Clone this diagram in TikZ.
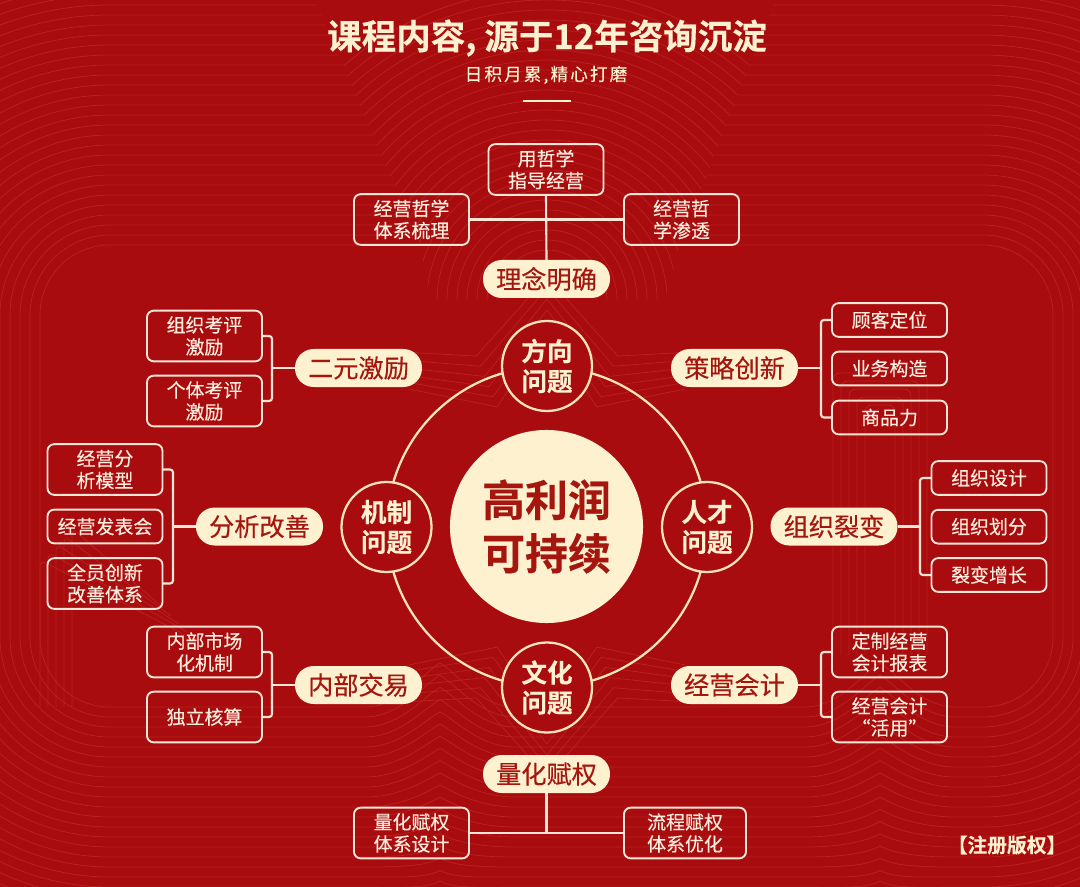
\documentclass[tikz,border=0pt]{standalone}
\usepackage{fontspec}
\setmainfont{Noto Sans CJK SC}
\newfontfamily\cjkm{Noto Sans CJK SC}[FakeBold=0.3]
\newfontfamily\cjkb{Noto Sans CJK SC Bold}
\newfontfamily\cjkbb{Noto Sans CJK SC Bold}[FakeBold=0.3]
\newfontfamily\cjksub{Noto Sans CJK SC}[LetterSpace=12,FakeBold=0.2]
\definecolor{bgred}{HTML}{A90C0E}
\definecolor{bgline}{HTML}{B9221F}
\definecolor{cream}{HTML}{FDF1CF}
\definecolor{boxline}{HTML}{F9E6D6}
\definecolor{boxtext}{HTML}{FCEDDD}
\definecolor{darktext}{HTML}{A5160F}
\definecolor{ringc}{HTML}{F9E4BB}
\tikzset{
  bgl/.style={draw=bgline,line width=0.55pt},
  boxnode/.style={draw=boxline,line width=1.4pt,rounded corners=5pt,minimum width=86.25pt,inner sep=0pt,outer sep=0pt,
    align=center,text=boxtext,font=\cjkm\fontsize{14.2}{16.5}\selectfont},
  tallbox/.style={boxnode,minimum height=38pt},
  lowbox/.style={boxnode,minimum height=25.3pt},
  pill/.style={fill=cream,rounded corners=14pt,minimum width=95.25pt,minimum height=28.5pt,inner sep=0pt,outer sep=0pt,
    text=darktext,font=\cjkm\fontsize{18.9}{22}\selectfont},
  issue/.style={circle,draw=ringc,fill=bgred,line width=1.7pt,minimum size=67.5pt,inner sep=0pt,outer sep=0pt,align=center,
    text=cream,font=\cjkbb\fontsize{19.2}{22.5}\selectfont},
  hub/.style={circle,fill=cream,minimum size=144.8pt,inner sep=0pt,outer sep=0pt,align=center,
    text=darktext,font=\cjkbb\fontsize{32.2}{40}\selectfont},
  conn/.style={draw=boxline,line width=1.6pt,rounded corners=2.2pt},
  ring/.style={draw=ringc,line width=1.7pt}
}
\begin{document}
\begin{tikzpicture}[x=0.75pt,y=-0.75pt]
\useasboundingbox (0,0) rectangle (1080,887);
\begin{scope}
\clip (0,0) rectangle (1080,887);
\fill[bgred] (0,0) rectangle (1080,887);
% concentric frame lines
\foreach \k in {0,...,26}{
  \pgfmathsetmacro\rr{(70+10*\k)*0.75}
  \draw[bgl,rounded corners=\rr pt] (40-10*\k,245-10*\k) rectangle (1053+10*\k,707+10*\k);
}
% nested columns on the right
\foreach \k in {0,...,4}{
  \draw[bgl,rounded corners=5pt] (833+8*\k,707) -- (833+8*\k,373+8*\k) -- (927-8*\k,373+8*\k) -- (927-8*\k,707);
}
% nested frame on the left
\foreach \k in {0,...,4}{
  \draw[bgl,rounded corners=5pt] (40+8*\k,707) -- (40+8*\k,560-8*\k) -- (195-8*\k,640-8*\k);
}
% centre-top burst
\begin{scope}
\clip (315,0) -- (775,0) -- (680,245) -- (665,300) -- (430,300) -- (420,245) -- cycle;
\fill[bgred] (300,0) rectangle (790,300);
\foreach \k in {0,...,26}{
  \draw[bgl] (547,300) circle ({(50+10*\k)*0.75pt});
}
\end{scope}
% chevrons at the bottom
\foreach \c in {440,880}{
  \fill[bgred] (\c-75,655) rectangle (\c+75,887);
  \foreach \k in {0,...,18}{
    \pgfmathsetmacro\yy{707+10*\k}
    \pgfmathsetmacro\hh{max(44-2.2*\k,6)}
    \draw[bgl] (\c-75,\yy) .. controls (\c-40,\yy) and (\c-15,\yy-\hh+8) .. (\c,\yy-\hh)
      .. controls (\c+15,\yy-\hh+8) and (\c+40,\yy) .. (\c+75,\yy);
  }
}
% star behind the ring
\foreach \k in {0,...,5}{
  \pgfmathsetmacro\ro{250-11*\k}
  \pgfmathsetmacro\ri{185-11*\k}
  \draw[bgl] ({547+\ro*cos(45)},{527+\ro*sin(45)}) -- ({547+\ri*cos(67.5)},{527+\ri*sin(67.5)}) -- ({547+\ro*cos(90)},{527+\ro*sin(90)}) -- ({547+\ri*cos(112.5)},{527+\ri*sin(112.5)}) -- ({547+\ro*cos(135)},{527+\ro*sin(135)});
  \draw[bgl] ({547+\ro*cos(225)},{527+\ro*sin(225)}) -- ({547+\ri*cos(247.5)},{527+\ri*sin(247.5)}) -- ({547+\ro*cos(270)},{527+\ro*sin(270)}) -- ({547+\ri*cos(292.5)},{527+\ri*sin(292.5)}) -- ({547+\ro*cos(315)},{527+\ro*sin(315)});
}
\end{scope}

% title
\node[text=cream,font=\cjkbb\fontsize{25.9}{30}\selectfont,inner sep=0pt] (title) at (547,38) {课程内容, 源于12年咨询沉淀};
\node[text=cream,font=\cjksub\fontsize{13.2}{15}\selectfont,inner sep=0pt] (subtitle) at (546,75) {日积月累,精心打磨};
\fill[cream] (523,100) rectangle (571,102.5);

% ring
\node[circle,minimum size=240pt,inner sep=0pt,outer sep=0pt,ring,draw=ringc] (ringn) at (547,527) {};

% centre
\node[hub] (hubn) at (546.5,526.5) {高利润\\可持续};
\node[issue] (fx) at (547,366) {方向\\问题};
\node[issue] (jz) at (386.5,527) {机制\\问题};
\node[issue] (rc) at (707,527) {人才\\问题};
\node[issue] (wh) at (547,687.5) {文化\\问题};

% top group
\node[tallbox] (t1) at (546,169.5) {用哲学\\指导经营};
\node[tallbox] (t2) at (411.5,219.5) {经营哲学\\体系梳理};
\node[tallbox] (t3) at (681.5,219.5) {经营哲\\学渗透};
\node[pill] (tp) at (546.5,279) {理念明确};
\draw[conn] (t1.south) -- (tp.north);
\draw[conn] (t2.east) -- (t3.west);

% upper left
\node[tallbox] (a1) at (204.5,336) {组织考评\\激励};
\node[tallbox] (a2) at (204.5,401) {个体考评\\激励};
\node[pill] (ap) at (358.5,368) {二元激励};
\coordinate (aj) at (272,368);
\draw[conn] (a1.east) -| (aj) |- (a2.east);
\draw[conn] (ap.west) -- (aj);

% middle left
\node[tallbox] (b1) at (105,469.5) {经营分\\析模型};
\node[lowbox] (b2) at (105,526.5) {经营发表会};
\node[tallbox] (b3) at (105,583.5) {全员创新\\改善体系};
\node[pill] (bp) at (259.5,526.5) {分析改善};
\coordinate (bj) at (173,526.5);
\draw[conn] (b1.east) -| (bj) |- (b3.east);
\draw[conn] (bp.west) -- (bj);

% lower left
\node[tallbox] (c1) at (204.5,652) {内部市场\\化机制};
\node[tallbox] (c2) at (204.5,717) {独立核算};
\node[pill] (cp) at (358.5,685) {内部交易};
\coordinate (cj) at (272,685);
\draw[conn] (c1.east) -| (cj) |- (c2.east);
\draw[conn] (cp.west) -- (cj);

% upper right
\node[lowbox] (d1) at (889.5,320) {顾客定位};
\node[lowbox] (d2) at (889.5,368.5) {业务构造};
\node[lowbox] (d3) at (889.5,417.5) {商品力};
\node[pill] (dp) at (734.5,368) {策略创新};
\coordinate (dj) at (821,368);
\draw[conn] (d1.west) -| (dj) |- (d3.west);
\draw[conn] (dp.east) -- (dj);

% middle right
\node[lowbox] (e1) at (989,478) {组织设计};
\node[lowbox] (e2) at (989,526.7) {组织划分};
\node[lowbox] (e3) at (989,575) {裂变增长};
\node[pill] (ep) at (834,526.5) {组织裂变};
\coordinate (ej) at (920,526.5);
\draw[conn] (e1.west) -| (ej) |- (e3.west);
\draw[conn] (ep.east) -- (ej);

% lower right
\node[tallbox] (f1) at (889.5,652) {定制经营\\会计报表};
\node[tallbox] (f2) at (889.5,717) {经营会计\\“活用”};
\node[pill] (fp) at (734.5,685) {经营会计};
\coordinate (fj) at (821,685);
\draw[conn] (f1.west) -| (fj) |- (f2.west);
\draw[conn] (fp.east) -- (fj);

% bottom group
\node[pill] (gp) at (546.5,774) {量化赋权};
\node[tallbox] (g1) at (411.5,833) {量化赋权\\体系设计};
\node[tallbox,minimum width=91.5pt] (g2) at (685,833) {流程赋权\\体系优化};
\coordinate (gj) at (546.5,833);
\draw[conn] (gp.south) -- (gj);
\draw[conn] (g1.east) -- (g2.west);

\node[text=cream,font=\cjkbb\fontsize{14.8}{17}\selectfont,inner sep=0pt] (mark) at (1007,845) {【注册版权】};
\end{tikzpicture}
\end{document}
